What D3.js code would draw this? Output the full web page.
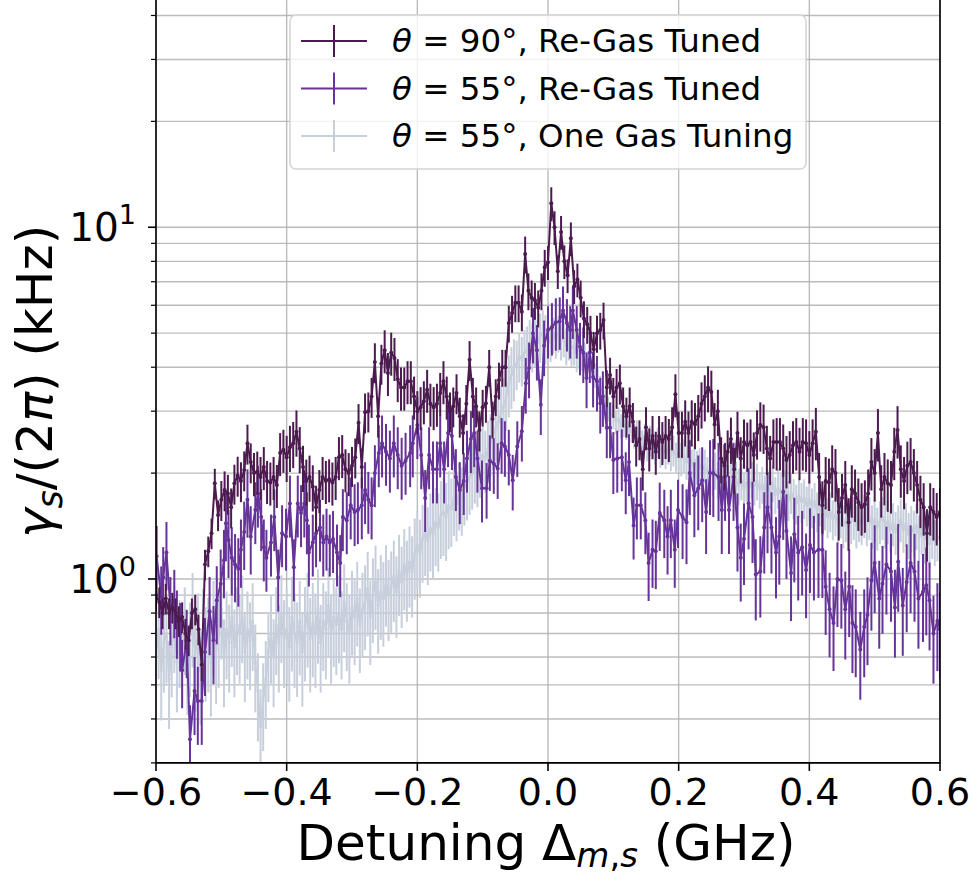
<!DOCTYPE html>
<html><head><meta charset="utf-8">
<script src="https://cdn.jsdelivr.net/npm/d3@7"></script>
<style>body{margin:0;background:#fff}svg{display:block;font-family:"DejaVu Sans",sans-serif}</style>
</head><body><svg id="c" width="973" height="877"></svg>
<script>
// ---------- data ----------
// θ = 90°, Re-Gas Tuned : detuning sweep -0.6 … 0.6 GHz in 0.005 GHz steps
const darkStart = -0.6, darkStep = 0.005;
const darkValues = [
0.90,0.86,0.80,0.88,0.80,0.83,0.80,0.76,0.78,0.70,
0.67,0.80,0.82,0.72,0.57,1.10,1.20,1.35,1.87,1.52,
1.68,1.79,1.75,1.60,1.87,1.97,1.90,2.04,2.43,2.15,
2.00,2.02,1.95,2.08,1.90,1.88,1.95,1.85,2.28,2.33,
2.22,2.37,2.43,2.62,2.35,2.08,1.90,1.95,1.83,1.60,
1.79,1.95,1.90,1.92,1.88,1.95,2.22,2.25,2.05,2.00,
2.10,2.22,2.78,2.08,2.98,3.00,3.30,4.14,2.90,4.10,
4.47,3.85,4.40,4.25,3.70,3.50,3.50,3.65,3.65,3.30,
3.00,3.08,3.20,3.45,3.15,3.08,3.15,3.38,3.65,3.30,
3.00,3.10,3.38,2.90,2.60,3.15,4.20,3.30,3.10,2.65,
3.08,3.16,4.00,2.85,3.30,3.68,4.00,4.00,5.34,5.70,
6.10,6.10,5.75,8.40,6.60,6.30,6.20,5.90,6.60,7.70,
7.95,11.7,10.0,7.50,9.70,8.00,7.30,9.30,6.80,7.10,
6.30,5.50,5.30,5.00,4.50,5.00,5.10,5.45,3.50,3.80,
3.30,3.50,3.60,3.10,2.90,3.10,2.80,2.40,2.50,2.05,
2.70,2.35,2.55,2.30,2.55,2.45,2.55,2.50,2.70,3.35,
2.60,2.60,2.80,2.60,2.80,2.75,2.90,3.15,3.30,3.50,
3.40,2.75,3.00,2.20,2.10,2.30,2.50,2.05,2.60,2.20,
2.45,2.40,2.45,2.25,2.60,2.74,2.70,2.35,2.20,2.45,
2.45,2.45,2.35,2.18,2.25,2.40,2.45,2.30,2.45,2.43,
2.25,2.43,2.62,1.95,1.62,1.90,1.88,2.05,2.00,1.55,
1.70,1.85,1.45,1.80,1.75,1.65,1.60,1.63,1.75,2.15,
2.00,2.60,1.80,1.95,1.87,1.85,2.30,2.65,2.05,1.90,
2.10,2.15,2.00,1.85,1.68,1.60,1.35,1.60,1.55,1.50,
1.55];

// θ = 55°, Re-Gas Tuned : detuning (GHz) and rate (kHz)
const midX = [
-0.599,-0.592,-0.589,-0.584,-0.578,-0.572,-0.568,-0.563,-0.560,-0.553,
-0.548,-0.541,-0.536,-0.530,-0.525,-0.518,-0.512,-0.507,-0.501,-0.496,
-0.493,-0.489,-0.484,-0.479,-0.474,-0.470,-0.465,-0.460,-0.455,-0.448,
-0.444,-0.439,-0.435,-0.431,-0.424,-0.419,-0.413,-0.407,-0.401,-0.395,
-0.389,-0.383,-0.378,-0.373,-0.369,-0.366,-0.360,-0.355,-0.349,-0.344,
-0.339,-0.334,-0.329,-0.323,-0.318,-0.314,-0.308,-0.302,-0.296,-0.291,
-0.285,-0.280,-0.275,-0.270,-0.265,-0.259,-0.254,-0.248,-0.242,-0.236,
-0.230,-0.224,-0.218,-0.211,-0.207,-0.200,-0.194,-0.188,-0.182,-0.176,
-0.170,-0.165,-0.159,-0.153,-0.147,-0.141,-0.135,-0.129,-0.124,-0.118,
-0.113,-0.108,-0.101,-0.094,-0.089,-0.083,-0.077,-0.071,-0.066,-0.060,
-0.054,-0.047,-0.040,-0.034,-0.029,-0.023,-0.017,-0.011,-0.006,0.000,
0.006,0.012,0.018,0.023,0.029,0.034,0.038,0.044,0.049,0.054,
0.059,0.064,0.069,0.075,0.080,0.084,0.090,0.095,0.100,0.106,
0.113,0.119,0.124,0.131,0.136,0.142,0.149,0.154,0.160,0.165,
0.171,0.178,0.183,0.188,0.194,0.199,0.206,0.212,0.217,0.224,
0.230,0.236,0.242,0.248,0.253,0.261,0.266,0.271,0.277,0.284,
0.290,0.295,0.300,0.307,0.313,0.318,0.325,0.331,0.336,0.342,
0.349,0.354,0.360,0.365,0.372,0.377,0.383,0.389,0.395,0.401,
0.407,0.414,0.420,0.425,0.431,0.437,0.443,0.449,0.455,0.461,
0.466,0.471,0.478,0.484,0.489,0.495,0.500,0.507,0.512,0.518,
0.525,0.531,0.536,0.543,0.549,0.555,0.561,0.567,0.574,0.579,
0.584,0.590,0.596,0.600];
const midValues = [
1.16,0.89,1.01,1.19,0.83,0.87,0.76,0.70,0.55,0.67,
0.35,0.48,0.45,0.45,0.62,0.81,0.67,0.87,0.97,1.13,
1.44,1.29,1.15,1.10,1.07,1.21,1.36,1.68,1.32,1.57,
1.75,1.50,1.23,1.15,1.27,1.50,1.01,1.35,1.32,1.64,
1.08,1.64,1.54,1.64,1.47,1.19,1.27,1.35,1.40,1.27,
1.32,1.27,1.30,1.19,1.11,1.50,1.47,1.62,1.55,1.57,
1.62,1.79,1.68,1.62,2.00,2.28,2.43,2.30,2.20,2.43,
2.25,2.10,2.17,2.28,2.43,2.74,2.25,1.70,2.25,2.05,
2.05,2.43,2.05,2.60,2.55,1.95,1.79,1.90,2.20,2.50,
2.60,2.20,1.81,1.81,2.17,2.13,2.06,2.43,2.38,2.25,
1.91,2.38,2.63,3.60,3.98,5.00,4.47,3.13,4.60,5.10,
5.20,5.37,5.40,5.80,5.34,5.10,5.80,5.10,4.57,4.40,
3.73,4.40,3.75,3.65,3.16,3.30,2.69,2.69,2.18,2.20,
2.22,1.91,2.15,1.42,1.62,1.62,1.47,1.11,1.21,1.20,
1.54,1.47,1.32,1.47,1.21,1.57,1.50,1.45,2.00,1.73,
1.81,1.91,1.55,2.00,2.00,1.95,1.57,1.95,1.57,1.95,
1.40,1.15,1.30,1.64,1.50,1.03,1.05,1.40,1.60,1.40,
1.19,1.32,1.77,1.37,1.04,1.34,1.19,1.23,1.06,1.25,
1.19,1.21,1.21,0.95,0.82,0.75,1.00,0.99,0.82,0.95,
0.75,0.73,0.63,0.73,0.79,0.99,1.11,0.88,0.97,1.10,
1.05,0.83,1.12,0.84,0.98,1.11,1.05,0.88,0.92,0.96,
0.87,0.70,0.76,0.72];

// θ = 55°, One Gas Tuning : sweep -0.6 … 0.6 GHz in 0.004 GHz steps
const grayStart = -0.6, grayStep = 0.004;
const grayValues = [
0.60,0.72,0.55,0.66,0.70,0.52,0.64,0.75,0.58,0.68,
0.62,0.74,0.57,0.66,0.80,0.60,0.70,0.55,0.72,0.64,
0.68,0.58,0.76,0.63,0.70,0.82,0.60,0.72,0.66,0.78,
0.64,0.74,0.70,0.80,0.62,0.72,0.67,0.76,0.58,0.48,
0.38,0.45,0.52,0.62,0.70,0.60,0.74,0.66,0.80,0.68,
0.72,0.64,0.78,0.70,0.66,0.76,0.62,0.73,0.80,0.68,
0.75,0.70,0.82,0.66,0.76,0.72,0.84,0.70,0.78,0.74,
0.80,0.72,0.86,0.76,0.70,0.83,0.78,0.88,0.74,0.82,
0.86,0.94,0.78,0.90,0.98,0.84,0.92,0.88,0.99,0.90,
0.95,1.02,0.92,1.06,0.98,1.10,1.02,1.12,1.05,1.18,
1.25,1.18,1.30,1.36,1.28,1.40,1.34,1.45,1.40,1.52,
1.55,1.50,1.62,1.58,1.70,1.64,1.76,1.70,1.82,1.88,
1.95,2.02,2.10,2.05,2.18,2.25,2.20,2.35,2.45,2.55,
2.70,2.80,2.95,3.10,3.30,3.60,3.80,4.00,4.10,4.30,
4.20,4.40,4.50,4.70,4.60,4.80,4.70,4.90,5.00,4.85,
4.90,4.70,4.95,4.80,5.00,4.75,4.85,4.60,4.75,4.55,
4.60,4.40,4.50,4.25,4.35,4.10,4.20,3.95,3.80,3.70,
3.50,3.35,3.20,3.05,2.95,2.90,2.80,2.85,2.72,2.75,
2.70,2.60,2.65,2.55,2.62,2.50,2.45,2.55,2.40,2.48,
2.42,2.35,2.45,2.30,2.38,2.28,2.35,2.25,2.32,2.22,
2.28,2.20,2.25,2.15,2.22,2.10,2.18,2.08,2.12,2.05,
2.10,2.00,2.06,1.96,2.04,1.92,2.00,1.94,1.98,1.88,
1.95,1.86,1.92,1.84,1.90,1.80,1.88,1.82,1.92,1.84,
1.90,1.80,1.86,1.76,1.84,1.78,1.88,1.74,1.82,1.76,
1.74,1.80,1.68,1.76,1.70,1.64,1.72,1.66,1.70,1.62,
1.68,1.60,1.66,1.56,1.62,1.52,1.58,1.50,1.56,1.48,
1.52,1.44,1.50,1.42,1.48,1.40,1.46,1.50,1.42,1.48,
1.45,1.52,1.44,1.50,1.42,1.48,1.40,1.46,1.50,1.42,
1.46,1.38,1.44,1.36,1.42,1.48,1.38,1.44,1.34,1.40,
1.36,1.42,1.32,1.38,1.30,1.36,1.26,1.34,1.28,1.32,
1.30];

// relative error-bar half sizes, read per 0.05 GHz band (-0.6 … 0.6)
const darkErr = [0.10,0.10,0.13,0.14,0.15,0.14,0.13,0.14,0.14,0.13,0.12,0.12,0.11,0.12,0.13,0.14,0.15,0.15,0.16,0.17,0.17,0.17,0.17,0.17];
const midErr  = [0.22,0.25,0.22,0.20,0.20,0.20,0.20,0.20,0.20,0.20,0.18,0.18,0.17,0.18,0.20,0.22,0.24,0.25,0.26,0.27,0.27,0.28,0.28,0.28];
const grayErr = [0.28,0.30,0.28,0.28,0.30,0.28,0.27,0.26,0.25,0.22,0.20,0.16,0.12,0.08,0.08,0.10,0.11,0.12,0.12,0.13,0.13,0.14,0.14,0.15];

const xTicks = [-0.6,-0.4,-0.2,0.0,0.2,0.4,0.6];
const xTickLabels = ["\u22120.6","\u22120.4","\u22120.2","0.0","0.2","0.4","0.6"];
const yMajorTicks = [1,10];
const yMajorExp = ["0","1"];
const yMinorTicks = [0.3,0.4,0.5,0.6,0.7,0.8,0.9,2,3,4,5,6,7,8,9,20,30,40];
const seriesNames = ["90°, Re-Gas Tuned","55°, Re-Gas Tuned","55°, One Gas Tuning"];
const seriesColors = ["#4b1a4f","#663399","#c6cfdb"];

// ---------- drawing ----------
const svg = d3.select("#c");
const L = 156, R = 940, B = 762.9, T = -18.6;
const x = d3.scaleLinear().domain([-0.6,0.6]).range([L,R]);
const y = d3.scaleLog().domain([0.3,50]).range([B,T]);

const darkX = darkValues.map((_,i)=>darkStart + i*darkStep);
const grayX = grayValues.map((_,i)=>grayStart + i*grayStep);
const band = v => Math.max(0, Math.min(23, Math.floor((v+0.6)/0.05 + 1e-9)));

// grid
const grid = svg.append("g").attr("stroke","#b0b0b0").attr("stroke-width",1.4).attr("stroke-opacity",0.85);
yMinorTicks.concat(yMajorTicks).forEach(t=>{
  grid.append("line").attr("x1",L).attr("x2",R).attr("y1",y(t)).attr("y2",y(t));
});
xTicks.forEach(t=>{
  grid.append("line").attr("x1",x(t)).attr("x2",x(t)).attr("y1",Math.max(T,0)).attr("y2",B);
});

svg.append("clipPath").attr("id","clip").append("rect").attr("x",L).attr("y",T).attr("width",R-L).attr("height",B-T);
const plot = svg.append("g").attr("clip-path","url(#clip)");

function drawSeries(xs, vs, errs, color, lw, r){
  const g = plot.append("g");
  const pts = xs.map((xx,i)=>({x:xx, v:vs[i], e:errs[band(xx)]}));
  g.selectAll("line.eb").data(pts).join("line")
    .attr("x1",d=>x(d.x)).attr("x2",d=>x(d.x))
    .attr("y1",d=>y(d.v*(1+d.e))).attr("y2",d=>y(Math.max(0.05,d.v*(1-d.e))))
    .attr("stroke",color).attr("stroke-width",lw);
  g.append("path").datum(pts)
    .attr("d", d3.line().x(d=>x(d.x)).y(d=>y(d.v)))
    .attr("fill","none").attr("stroke",color).attr("stroke-width",lw).attr("stroke-linejoin","round");
  g.selectAll("circle").data(pts).join("circle")
    .attr("cx",d=>x(d.x)).attr("cy",d=>y(d.v)).attr("r",r).attr("fill",color);
}
drawSeries(grayX, grayValues, grayErr, seriesColors[2], 2.0, 1.5);
drawSeries(midX, midValues, midErr, seriesColors[1], 2.0, 2.0);
drawSeries(darkX, darkValues, darkErr, seriesColors[0], 2.0, 2.0);

// spines
const ax = svg.append("g").attr("stroke","#000").attr("stroke-width",1.6);
ax.append("line").attr("x1",L).attr("x2",L).attr("y1",0).attr("y2",B);
ax.append("line").attr("x1",R).attr("x2",R).attr("y1",0).attr("y2",B);
ax.append("line").attr("x1",L-0.8).attr("x2",R+0.8).attr("y1",B).attr("y2",B);

// x axis ticks & labels
xTicks.forEach((t,i)=>{
  ax.append("line").attr("x1",x(t)).attr("x2",x(t)).attr("y1",B).attr("y2",B+8);
  svg.append("text").attr("x",x(t)).attr("y",805).attr("text-anchor","middle")
    .attr("font-size",38).text(xTickLabels[i]);
});
// y axis ticks & labels
yMajorTicks.forEach((t,i)=>{
  ax.append("line").attr("x1",L-8).attr("x2",L).attr("y1",y(t)).attr("y2",y(t));
  const tx = svg.append("text").attr("x",136).attr("y",y(t)+14).attr("text-anchor","end").attr("font-size",39);
  tx.append("tspan").text("10");
  tx.append("tspan").attr("dy",-17).attr("font-size",27).text(yMajorExp[i]);
});
yMinorTicks.forEach(t=>{
  ax.append("line").attr("x1",L-5).attr("x2",L).attr("y1",y(t)).attr("y2",y(t)).attr("stroke-width",1.2);
});

// axis labels
const xl = svg.append("text").attr("x",546).attr("y",860).attr("text-anchor","middle").attr("font-size",50);
xl.append("tspan").text("Detuning \u0394");
xl.append("tspan").attr("dy",7).attr("font-size",34).attr("font-style","italic").text("m");
xl.append("tspan").attr("font-size",34).text(",");
xl.append("tspan").attr("font-size",34).attr("font-style","italic").text("s");
xl.append("tspan").attr("dy",-7).text(" (GHz)");

const yl = svg.append("text").attr("transform",`translate(52,${(0+B)/2}) rotate(-90)`).attr("text-anchor","middle").attr("font-size",50);
yl.append("tspan").attr("font-style","italic").text("\u03b3");
yl.append("tspan").attr("dy",10).attr("font-size",35).attr("font-style","italic").text("s");
yl.append("tspan").attr("dy",-10).text("/(2");
yl.append("tspan").attr("font-style","italic").text("\u03c0");
yl.append("tspan").text(") (kHz)");

// legend
const lg = svg.append("g");
lg.append("rect").attr("x",290).attr("y",15).attr("width",516).attr("height",154).attr("rx",6)
  .attr("fill","#fff").attr("fill-opacity",0.8).attr("stroke","#d4d4d4").attr("stroke-width",1.5);
seriesNames.forEach((n,i)=>{
  const cy = 41 + i*47.5;
  lg.append("line").attr("x1",301).attr("x2",367).attr("y1",cy).attr("y2",cy).attr("stroke",seriesColors[i]).attr("stroke-width",2);
  lg.append("line").attr("x1",334).attr("x2",334).attr("y1",cy-16).attr("y2",cy+16).attr("stroke",seriesColors[i]).attr("stroke-width",2);
  const t = lg.append("text").attr("x",392).attr("y",cy+11).attr("font-size",32.5);
  t.append("tspan").attr("font-style","italic").text("\u03b8");
  t.append("tspan").text(" = " + n);
});
</script></body></html>
